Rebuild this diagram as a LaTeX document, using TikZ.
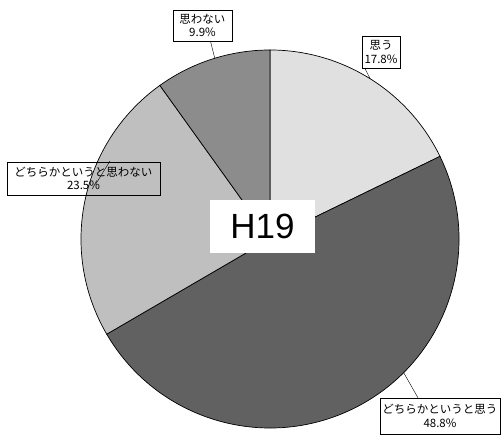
\documentclass[tikz,border=0pt]{standalone}
\usepackage{fontspec}
\newfontfamily\jpfont{Noto Sans CJK JP}
\newfontfamily\yearfont{Liberation Sans}

\begin{document}
\begin{tikzpicture}[x=1pt,y=1pt,thin]
	%
	% `slice' is used for the four pie pieces.
	% `callout' is used for the label boxes, `leader' for their lines.
	% `yearbox' is the white box with the year in the middle.
	\tikzstyle{slice} = [draw=black,line width=0.7pt]
	\tikzstyle{callout} = [draw,fill=white,font=\jpfont\fontsize{11.5}{13.5}\selectfont,align=center,inner sep=1pt,minimum height=32pt]
	\tikzstyle{leader} = [draw,line width=0.4pt]
	\tikzstyle{yearbox} = [fill=white,minimum width=105pt,minimum height=53pt,font=\yearfont\fontsize{35}{35}\selectfont]
	%
	\useasboundingbox (-270,-196) rectangle (231,239);
	%
	% Slices (clockwise from the top)
	\filldraw[slice,fill=black!12] (0,0) -- (90:189) arc[start angle=90,end angle=25.92,radius=189pt] -- cycle;
	\filldraw[slice,fill=black!62] (0,0) -- (25.92:189) arc[start angle=25.92,end angle=-149.76,radius=189pt] -- cycle;
	\filldraw[slice,fill=black!25] (0,0) -- (-149.76:189) arc[start angle=-149.76,end angle=-234.36,radius=189pt] -- cycle;
	\filldraw[slice,fill=black!45] (0,0) -- (-234.36:189) arc[start angle=-234.36,end angle=-270,radius=189pt] -- cycle;
	%
	% Year
	\node[yearbox] (year) at (-7.5,12.5) {H19};
	%
	% Points on the rim
	\coordinate (rim1) at (58:189);
	\coordinate (rim2) at (-45:189);
	\coordinate (rim3) at (154:178);
	\coordinate (rim4) at (107:189);
	%
	% Labels
	\node[callout,minimum width=38pt] (omou) at (111,187) {思う\\17.8\%};
	\node[callout,minimum width=120pt,minimum height=36pt] (dochiomou) at (170,-177) {どちらかというと思う\\48.8\%};
	\node[callout,fill=none,minimum width=153pt,minimum height=33pt] (dochinai) at (-186.5,60.5) {どちらかというと思わない\\23.5\%};
	\node[callout,minimum width=59pt,minimum height=31pt] (nashi) at (-67.5,213.5) {思わない\\9.9\%};
	%
	% Leaders
	\draw[leader] (rim1) -- ([xshift=3pt]omou.south west);
	\draw[leader] (rim2) -- ([xshift=-22pt]dochiomou.north);
	\draw[leader] (rim3) -- ([xshift=12pt,yshift=-6pt]dochinai.center);
	\draw[leader] (rim4) -- ([xshift=8pt]nashi.south);
	%
\end{tikzpicture}
\end{document}
